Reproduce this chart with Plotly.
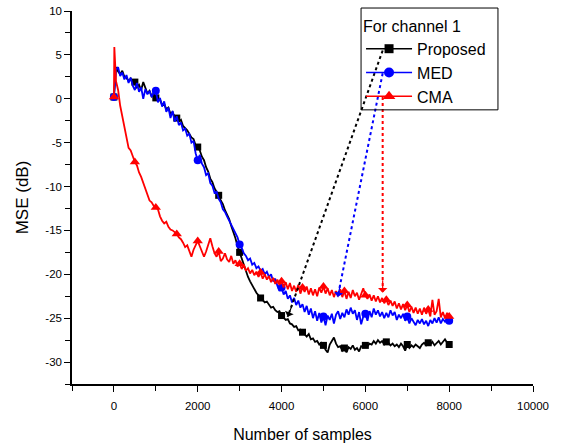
import plotly.graph_objects as go

# ---------------- data ----------------
SAMPLES = list(range(0, 8001, 50))

PROPOSED = [
    0.2, 3.6, 3.1, 2.8, 3.2, 2.5, 2.4, 2.0, 2.3, 1.7,
    1.9, 1.3, 1.6, 1.0, 1.9, 1.2, 0.6, 0.9, 0.3, 0.6,
    0.1, -0.2, -0.1, -0.7, -0.6, -1.2, -1.0, -1.7, -1.5, -2.1,
    -2.2, -2.6, -2.4, -3.1, -3.3, -3.6, -4.0, -4.4, -4.6, -5.3,
    -5.5, -5.9, -6.6, -7.0, -7.8, -8.3, -9.1, -9.5, -10.2, -10.6,
    -11.0, -11.6, -12.0, -12.7, -13.2, -13.7, -14.5, -15.1, -15.9, -16.8,
    -17.5, -18.2, -19.0, -19.6, -20.3, -20.8, -21.3, -21.7, -22.1, -22.4,
    -22.7, -22.9, -23.2, -23.1, -23.5, -23.8, -23.7, -24.1, -24.3, -24.2,
    -24.7, -24.9, -25.2, -25.1, -25.6, -25.7, -26.0, -25.9, -26.4, -26.3,
    -26.6, -26.9, -27.1, -26.8, -27.4, -27.3, -27.7, -27.6, -28.0, -27.8,
    -28.1, -28.6, -28.9, -28.0, -27.6, -27.2, -27.9, -28.3, -28.2, -28.7,
    -28.4, -28.9, -28.3, -28.5, -28.1, -28.6, -28.4, -28.8, -28.2, -28.3,
    -28.1, -28.2, -27.9, -28.0, -27.6, -27.9, -27.5, -27.8, -27.6, -28.0,
    -27.7, -27.8, -28.1, -27.9, -28.2, -28.0, -28.3, -27.9, -28.2, -28.7,
    -28.0, -28.4, -28.1, -28.3, -28.0, -28.2, -28.4, -28.0, -27.8, -28.1,
    -27.8, -28.0, -27.7, -28.1, -27.8, -27.6, -28.0, -27.7, -27.4, -27.8,
    -28.0,
]

MED = [
    0.2, 3.3, 3.6, 2.6, 3.0, 2.2, 2.7, 1.8, 2.4, 1.5,
    1.0, 1.8, 0.8, 1.3, 0.0, 1.1, 0.5, 0.9, 0.2, 0.7,
    0.9, -0.4, 0.1, -0.9, -0.3, -1.5, -1.0, -2.2, -1.4, -2.6,
    -2.0, -3.0, -2.7, -3.6, -3.4, -4.2, -4.0, -5.0, -4.8, -6.2,
    -7.0, -6.4, -7.4, -7.8, -8.7, -8.5, -9.6, -9.9, -10.7, -10.6,
    -11.4, -11.8, -12.6, -12.9, -13.4, -13.9, -14.3, -14.9, -15.4, -15.8,
    -16.6, -17.0, -17.6, -17.9, -18.4, -18.2, -18.9, -18.7, -19.3, -19.1,
    -19.6, -19.4, -20.0, -19.7, -20.3, -20.0, -20.8, -20.5, -21.3, -21.9,
    -21.5, -22.3, -21.9, -22.8, -22.4, -23.2, -22.7, -23.5, -23.0, -23.8,
    -23.4, -24.3, -23.6, -24.6, -23.9, -25.0, -24.2, -25.3, -24.4, -25.5,
    -24.8, -25.8, -24.7, -25.2, -24.5, -25.6, -24.6, -24.2, -25.1, -24.4,
    -24.9, -24.0, -24.6, -23.8, -24.5, -24.1, -25.2, -24.3, -25.7, -24.8,
    -24.5, -25.3, -24.2, -24.9, -23.9, -24.6, -24.1, -24.8, -24.3, -25.0,
    -24.4, -24.9, -24.1, -24.7, -24.3, -25.2, -24.6, -25.0, -24.5, -25.3,
    -24.8, -25.6, -25.0, -25.4, -25.8, -25.2, -25.6, -25.1, -25.7, -25.3,
    -25.9, -25.2, -25.6, -25.0, -25.5, -24.9, -25.6, -25.1, -25.4, -25.0,
    -25.3,
]

CMA_HEAD_X = [0, 10]
CMA_HEAD_Y = [0.2, 5.9]
CMA = [
    2.0, 1.0, -0.8, -1.9, -3.2, -4.3, -5.6, -5.9, -6.6,
    -7.2, -7.6, -8.4, -8.9, -9.6, -10.3, -10.9, -11.6, -11.8, -12.2,
    -12.4, -12.6, -13.4, -13.9, -14.2, -14.0, -14.6, -14.9, -15.0, -15.2,
    -15.4, -15.8, -16.0, -16.4, -16.9, -16.7, -17.3, -18.0, -17.2, -16.6,
    -16.2, -16.8, -17.5, -18.0, -17.4, -16.7, -15.9, -16.8, -17.6, -18.0,
    -17.4, -18.5, -18.2, -17.6, -18.3, -18.6, -17.9, -18.8, -18.4, -19.1,
    -18.8, -19.4, -18.9, -19.6, -19.3, -19.9, -19.5, -20.1, -19.7, -20.3,
    -19.8, -20.5, -20.0, -20.6, -20.2, -20.9, -20.4, -21.1, -20.6, -21.2,
    -20.8, -21.5, -20.9, -21.7, -21.0, -21.9, -21.3, -22.0, -21.2, -22.2,
    -21.5, -22.0, -21.4, -22.3, -21.6, -22.4, -21.7, -22.5, -21.5, -22.1,
    -21.4, -22.2, -21.6, -22.4, -21.8, -22.6, -21.9, -22.5, -21.7, -22.6,
    -21.9, -22.8, -22.0, -22.7, -21.8, -22.5, -22.1, -22.9, -22.2, -21.6,
    -22.4, -22.8, -22.3, -23.0, -22.4, -23.1, -22.5, -23.2, -22.7, -23.3,
    -22.9, -23.5, -23.0, -23.6, -23.1, -23.9, -23.3, -24.0, -23.4, -24.1,
    -23.5, -24.3, -23.7, -24.4, -23.8, -24.5, -23.9, -24.6, -23.8, -24.5,
    -24.0, -24.8, -22.9, -24.6, -24.2, -22.8, -24.9, -24.3, -25.0, -24.4,
    -24.8,
]

SERIES_NAMES = ["Proposed", "MED", "CMA"]
LEGEND_TITLE = "For channel 1"
X_TICKS = [0, 2000, 4000, 6000, 8000, 10000]
Y_TICKS = [10, 5, 0, -5, -10, -15, -20, -25, -30]

# arrows: (tail x, tail y, head x, head y, colour, head dx px, head dy px)
ARROWS = [
    (6413, 5.5, 4146, -24.85, "black", 5, -13),
    (6413, 2.9, 5339, -22.6, "blue", 3, -14),
    (6413, 0.2, 6413, -22.1, "red", 0, -14),
]

# ---------------- figure ----------------
FONT = "Arial, Liberation Sans, sans-serif"
cma_x = CMA_HEAD_X + SAMPLES[1:]
cma_y = CMA_HEAD_Y + CMA

styles = {
    "Proposed": dict(color="black", symbol="square", size=7, every=500),
    "MED": dict(color="#0000ff", symbol="circle", size=8, every=1000),
    "CMA": dict(color="#ff0000", symbol="triangle-up", size=9, every=500),
}
data = {
    "Proposed": (SAMPLES, PROPOSED),
    "MED": (SAMPLES, MED),
    "CMA": (cma_x, cma_y),
}

fig = go.Figure()
for name in SERIES_NAMES:
    st = styles[name]
    xs, ys = data[name]
    fig.add_trace(go.Scatter(x=xs, y=ys, mode="lines",
                             line=dict(color=st["color"], width=1.8),
                             showlegend=False, hoverinfo="skip"))
    mx = [x for x in xs if x % st["every"] == 0]
    my = [y for x, y in zip(xs, ys) if x % st["every"] == 0]
    fig.add_trace(go.Scatter(x=mx, y=my, mode="markers",
                             marker=dict(color=st["color"], symbol=st["symbol"], size=st["size"]),
                             showlegend=False, hoverinfo="skip"))

for name in SERIES_NAMES:
    st = styles[name]
    fig.add_trace(go.Scatter(x=[None], y=[None], mode="lines+markers", name=name,
                             line=dict(color=st["color"], width=1.5),
                             marker=dict(color=st["color"], symbol=st["symbol"], size=st["size"] + 2)))

for tx, ty, hx, hy, col, ax, ay in ARROWS:
    fig.add_shape(type="line", x0=tx, y0=ty, x1=hx, y1=hy, xref="x", yref="y",
                  line=dict(color=col, width=2, dash="dot"))
    fig.add_annotation(x=hx, y=hy, xref="x", yref="y", ax=ax, ay=ay, text="",
                       showarrow=True, arrowhead=1, arrowsize=1.3, arrowwidth=1.2,
                       arrowcolor=col)

# legend frame (wider than Plotly's tight legend box)
fig.add_shape(type="rect", xref="paper", yref="paper",
              x0=0.627, x1=0.924, y0=0.735, y1=1.008,
              line=dict(color="black", width=1), fillcolor="rgba(0,0,0,0)", layer="above")

fig.update_layout(
    width=562, height=443,
    margin=dict(l=72, r=29, t=11, b=59, autoexpand=False),
    paper_bgcolor="white", plot_bgcolor="white",
    font=dict(family=FONT, color="black", size=12),
    legend=dict(
        title=dict(text=LEGEND_TITLE, font=dict(size=16)),
        font=dict(size=16),
        x=0.627, y=1.0, xanchor="left", yanchor="top",
        borderwidth=0, bgcolor="rgba(0,0,0,0)",
        itemwidth=46, tracegroupgap=0,
    ),
)
fig.update_xaxes(
    range=[-1000, 10000], tickvals=X_TICKS, ticktext=[str(v) for v in X_TICKS],
    showline=True, linecolor="black", linewidth=1.5,
    ticks="outside", ticklen=6, tickwidth=1.2, tickcolor="black",
    minor=dict(dtick=1000, tick0=-1000, ticks="outside", ticklen=5, tickwidth=1.2, tickcolor="black"),
    showgrid=False, zeroline=False, ticklabelstandoff=4,
    title=dict(text="Number of samples", font=dict(size=16), standoff=18),
    tickfont=dict(size=11.5),
)
fig.update_yaxes(
    range=[-32.5, 10], tickvals=Y_TICKS, ticktext=[str(v) for v in Y_TICKS],
    showline=True, linecolor="black", linewidth=1.5,
    ticks="outside", ticklen=6, tickwidth=1.2, tickcolor="black",
    minor=dict(dtick=2.5, tick0=0, ticks="outside", ticklen=5, tickwidth=1.2, tickcolor="black"),
    showgrid=False, zeroline=False,
    title=dict(text="MSE (dB)", font=dict(size=17), standoff=12),
    tickfont=dict(size=11.5),
)

fig.write_html("out.html")
